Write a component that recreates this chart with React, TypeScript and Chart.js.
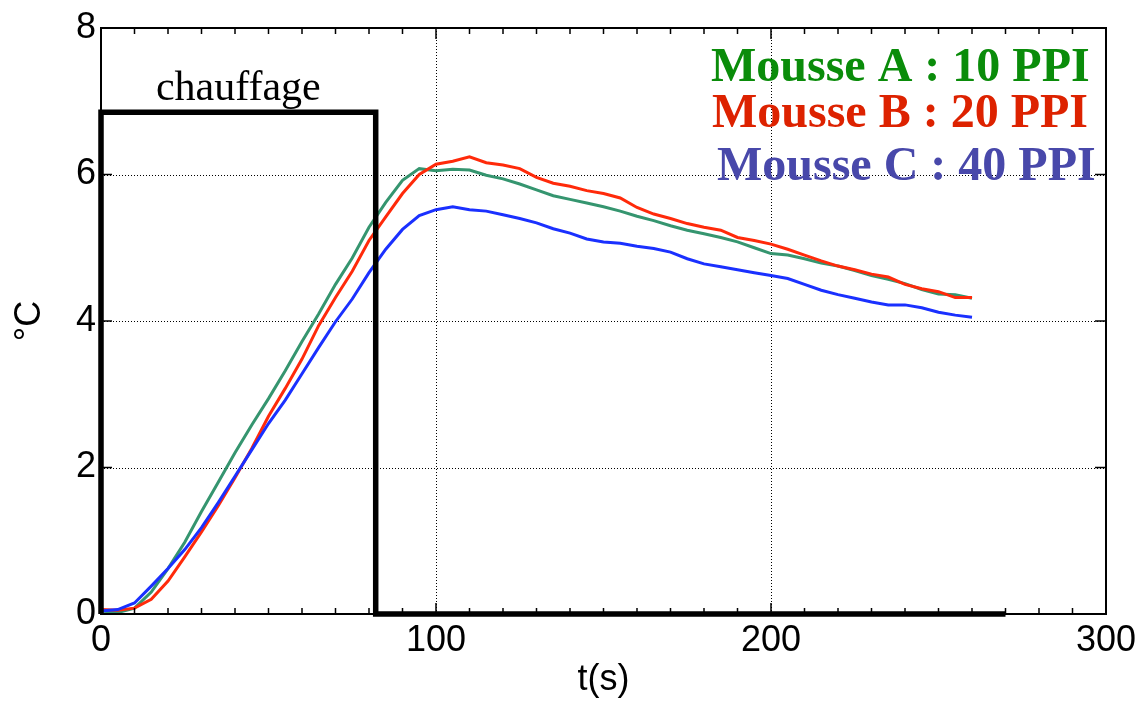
import { useEffect, useRef } from "react";
import { Chart, registerables } from "chart.js";

Chart.register(...registerables);

// time axis (s)
const times = [0, 5, 10, 15, 20, 25, 30, 35, 40, 45, 50, 55, 60, 65, 70, 75, 80, 85, 90, 95, 100, 105, 110, 115, 120, 125, 130, 135, 140, 145, 150, 155, 160, 165, 170, 175, 180, 185, 190, 195, 200, 205, 210, 215, 220, 225, 230, 235, 240, 245, 250, 255, 260];

// temperature rise (°C)
const mousseA = [0.04, 0.02, 0.08, 0.30, 0.62, 0.98, 1.40, 1.80, 2.20, 2.58, 2.94, 3.32, 3.72, 4.10, 4.50, 4.86, 5.28, 5.62, 5.92, 6.08, 6.05, 6.07, 6.06, 5.99, 5.94, 5.87, 5.79, 5.71, 5.66, 5.61, 5.56, 5.50, 5.43, 5.37, 5.30, 5.24, 5.19, 5.14, 5.08, 5.00, 4.92, 4.90, 4.85, 4.79, 4.75, 4.69, 4.62, 4.57, 4.51, 4.43, 4.37, 4.36, 4.31];
const mousseB = [0.06, 0.05, 0.08, 0.20, 0.45, 0.78, 1.12, 1.48, 1.86, 2.26, 2.70, 3.08, 3.48, 3.94, 4.32, 4.68, 5.10, 5.42, 5.74, 6.00, 6.14, 6.18, 6.24, 6.16, 6.13, 6.08, 5.96, 5.88, 5.84, 5.78, 5.74, 5.68, 5.55, 5.46, 5.40, 5.33, 5.28, 5.24, 5.14, 5.10, 5.05, 4.98, 4.90, 4.82, 4.75, 4.70, 4.64, 4.60, 4.50, 4.44, 4.40, 4.32, 4.32];
const mousseC = [0.04, 0.06, 0.15, 0.38, 0.62, 0.88, 1.18, 1.52, 1.88, 2.24, 2.60, 2.92, 3.28, 3.64, 3.99, 4.30, 4.66, 4.98, 5.25, 5.44, 5.52, 5.56, 5.52, 5.50, 5.45, 5.40, 5.34, 5.26, 5.20, 5.12, 5.08, 5.06, 5.02, 4.99, 4.94, 4.85, 4.78, 4.74, 4.70, 4.66, 4.62, 4.58, 4.50, 4.42, 4.36, 4.31, 4.26, 4.22, 4.22, 4.18, 4.12, 4.08, 4.05];

// heating signal (step)
const heatTimes = [0, 0, 82, 82, 270];
const heatValues = [0, 6.85, 6.85, 0, 0];

const seriesLabels = ["Mousse A : 10 PPI", "Mousse B : 20 PPI", "Mousse C : 40 PPI"];
const lineColors = ["#35956f", "#ff2a0a", "#1a30ff"];
const textColors = ["#0a8c0a", "#dd2200", "#4848aa"];
const heatLabel = "chauffage";
const xTitle = "t(s)";
const yTitle = "°C";

const toPoints = (xs: number[], ys: number[]) => xs.map((x, i) => ({ x, y: ys[i] }));

const SANS = "'Liberation Sans', Arial, Helvetica, sans-serif";
const SERIF = "'Liberation Serif', 'Times New Roman', serif";

export default function App() {
  const ref = useRef<HTMLCanvasElement>(null);

  useEffect(() => {
    if (!ref.current) return;

    const framePlugin = {
      id: "frameDeco",
      beforeDatasetsDraw(chart: any) {
        const { ctx, chartArea: a, scales } = chart;
        const xs = scales.x;
        const ys = scales.y;
        ctx.save();
        ctx.strokeStyle = "#000";
        ctx.lineWidth = 1;
        ctx.setLineDash([1, 2]);
        xs.ticks.forEach((t: any) => {
          if (t.value <= xs.min || t.value >= xs.max) return;
          const px = Math.round(xs.getPixelForValue(t.value)) + 0.5;
          ctx.beginPath();
          ctx.moveTo(px, a.top);
          ctx.lineTo(px, a.bottom);
          ctx.stroke();
        });
        ys.ticks.forEach((t: any) => {
          if (t.value <= ys.min || t.value >= ys.max) return;
          const py = Math.round(ys.getPixelForValue(t.value)) + 0.5;
          ctx.beginPath();
          ctx.moveTo(a.left, py);
          ctx.lineTo(a.right, py);
          ctx.stroke();
        });
        ctx.restore();
      },
      afterDatasetsDraw(chart: any) {
        const { ctx, chartArea: a, scales } = chart;
        const xs = scales.x;
        const ys = scales.y;
        ctx.save();
        ctx.setLineDash([]);
        ctx.strokeStyle = "#000";
        ctx.lineWidth = 2;
        ctx.strokeRect(a.left, a.top, a.right - a.left, a.bottom - a.top);
        ctx.lineWidth = 1.5;
        // x ticks (inward), minor every 10
        for (let v = xs.min; v <= xs.max; v += 10) {
          const px = xs.getPixelForValue(v);
          const len = v % 100 === 0 ? 11 : 6;
          ctx.beginPath();
          ctx.moveTo(px, a.bottom);
          ctx.lineTo(px, a.bottom - len);
          ctx.moveTo(px, a.top);
          ctx.lineTo(px, a.top + len);
          ctx.stroke();
        }
        ys.ticks.forEach((t: any) => {
          const py = ys.getPixelForValue(t.value);
          ctx.beginPath();
          ctx.moveTo(a.left, py);
          ctx.lineTo(a.left + 11, py);
          ctx.moveTo(a.right, py);
          ctx.lineTo(a.right - 11, py);
          ctx.stroke();
        });

        // heating label
        ctx.fillStyle = "#000";
        ctx.font = `42px ${SERIF}`;
        ctx.textAlign = "center";
        ctx.textBaseline = "alphabetic";
        const cx = xs.getPixelForValue((heatTimes[1] + heatTimes[2]) / 2);
        ctx.fillText(heatLabel, cx, ys.getPixelForValue(heatValues[1]) - 12);

        // series labels
        ctx.font = `bold 48px ${SERIF}`;
        ctx.textAlign = "left";
        const offs = [
          [610, 53],
          [611, 99],
          [616, 152],
        ];
        seriesLabels.forEach((lab, i) => {
          ctx.fillStyle = textColors[i];
          ctx.fillText(lab, a.left + offs[i][0], a.top + offs[i][1]);
        });
        ctx.restore();
      },
    };

    const chart = new Chart(ref.current, {
      type: "line",
      data: {
        datasets: [
          {
            label: "chauffage",
            data: toPoints(heatTimes, heatValues),
            borderColor: "#000",
            borderWidth: 5.5,
            pointRadius: 0,
            tension: 0,
            clip: false,
            borderCapStyle: "butt",
            borderJoinStyle: "miter",
          },
          {
            label: seriesLabels[2],
            data: toPoints(times, mousseC),
            borderColor: lineColors[2],
            borderWidth: 3,
            pointRadius: 0,
            tension: 0,
          },
          {
            label: seriesLabels[1],
            data: toPoints(times, mousseB),
            borderColor: lineColors[1],
            borderWidth: 3,
            pointRadius: 0,
            tension: 0,
          },
          {
            label: seriesLabels[0],
            data: toPoints(times, mousseA),
            borderColor: lineColors[0],
            borderWidth: 3,
            pointRadius: 0,
            tension: 0,
          },
        ],
      },
      options: {
        responsive: false,
        animation: false,
        layout: { padding: { top: 28, right: 40, left: 0, bottom: 0 } },
        plugins: { legend: { display: false }, tooltip: { enabled: false } },
        scales: {
          x: {
            type: "linear",
            min: 0,
            max: 300,
            grid: { display: false, drawTicks: false },
            border: { display: false },
            ticks: { stepSize: 100, padding: 5, color: "#000", font: { family: SANS, size: 36 }, maxRotation: 0 },
            title: { display: true, text: xTitle, color: "#000", font: { family: SANS, size: 36 }, padding: { top: 0, bottom: 0 } },
            afterFit: (s: any) => {
              s.height = 88;
            },
          },
          y: {
            type: "linear",
            min: 0,
            max: 8,
            grid: { display: false, drawTicks: false },
            border: { display: false },
            ticks: { stepSize: 2, padding: 5, color: "#000", font: { family: SANS, size: 36 } },
            title: { display: true, text: yTitle, color: "#000", font: { family: SANS, size: 36 }, padding: { top: 8, bottom: 0 } },
            afterFit: (s: any) => {
              s.width = 101;
            },
          },
        },
      },
      plugins: [framePlugin],
    } as any);

    return () => chart.destroy();
  }, []);

  return (
    <div style={{ position: "absolute", left: 0, top: 0, width: 1146, height: 702, background: "#fff" }}>
      <canvas ref={ref} width={1146} height={702} />
    </div>
  );
}
